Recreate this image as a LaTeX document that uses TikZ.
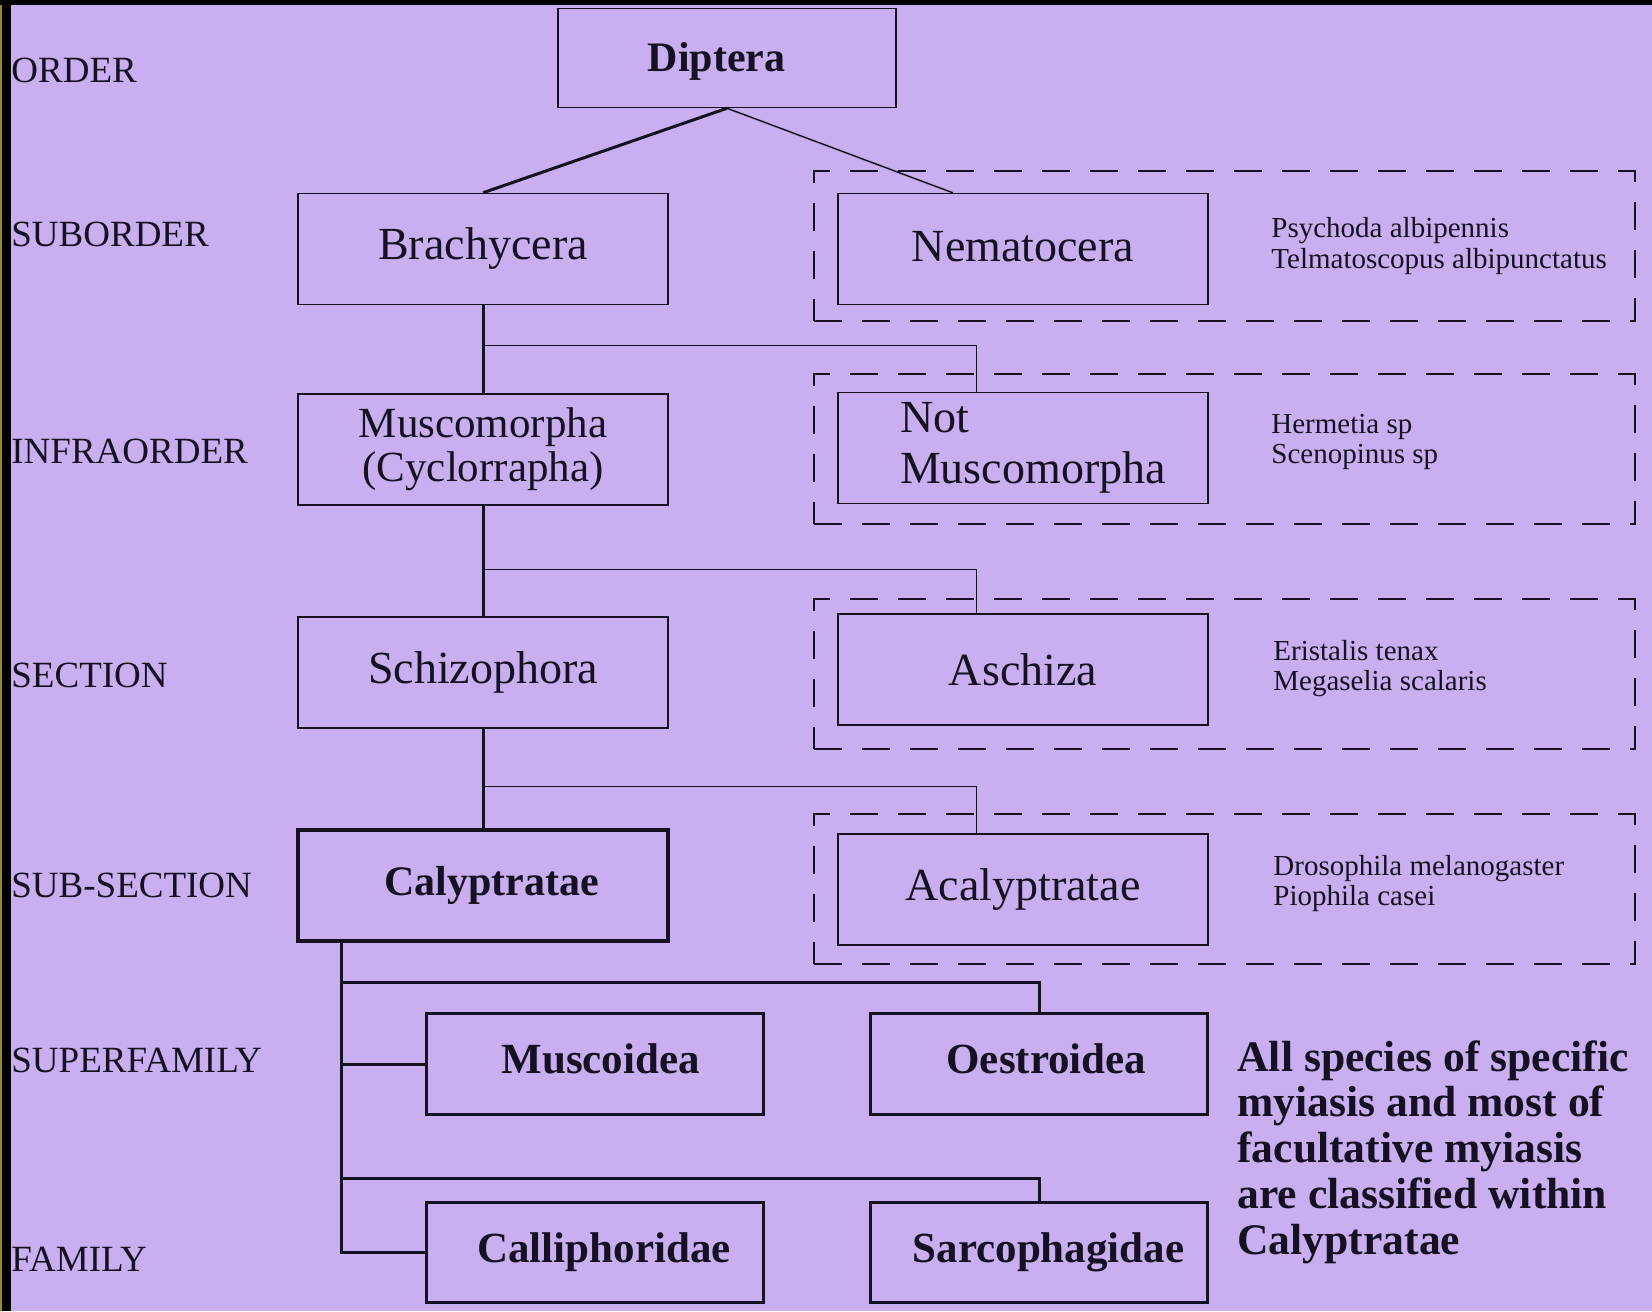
\documentclass[tikz,border=0pt]{standalone}
\usepackage{fontspec}
\setmainfont{Liberation Serif}
\usetikzlibrary{calc}
\definecolor{bgc}{RGB}{201,174,240}
\definecolor{ink}{RGB}{22,16,34}
\definecolor{olivestrip}{RGB}{150,140,30}
\begin{document}
\begin{tikzpicture}[x=0.5pt,y=-0.5pt,
  box/.style={draw=ink, line width=0.75pt, rectangle, inner sep=0pt, minimum width=185pt, minimum height=55.5pt, text=ink, font=\fontsize{23}{25.3}\selectfont},
  bbox/.style={draw=ink, line width=1.5pt, rectangle, inner sep=0pt, minimum width=168.5pt, minimum height=50.25pt, text=ink, font=\bfseries\fontsize{21.5}{23}\selectfont},
  grp/.style={draw=ink, line width=1pt, dash pattern=on 14pt off 10pt, rectangle, inner sep=0pt, minimum width=410.5pt, minimum height=75pt},
  rank/.style={anchor=west, inner sep=0pt, text=ink, font=\fontsize{18.5}{20}\selectfont},
  spec/.style={anchor=west, align=left, inner sep=0pt, text=ink, font=\fontsize{14.5}{15.3}\selectfont},
  thk/.style={draw=ink, line width=1.5pt},
  thn/.style={draw=ink, line width=0.5pt},
]
\useasboundingbox (0,0) rectangle (1652,1311);
\fill[bgc] (0,0) rectangle (1652,1311);
\fill[black] (0,0) rectangle (1652,5);
\fill[black] (0,0) rectangle (11,1311);
\fill[olivestrip] (0,5) rectangle (2,1311);

% rank labels
\node[rank] (rOrder) at (11,70.6) {ORDER};
\node[rank] (rSubo) at (11,234) {SUBORDER};
\node[rank] (rInfra) at (11,451) {INFRAORDER};
\node[rank] (rSect) at (11,675) {SECTION};
\node[rank] (rSubs) at (11,885) {SUB-SECTION};
\node[rank] (rSupf) at (11,1060) {SUPERFAMILY};
\node[rank] (rFam) at (11,1259) {FAMILY};

% dashed groups
\node[grp] (g1) at (1224.5,245.5) {};
\node[grp] (g2) at (1224.5,448.5) {};
\node[grp] (g3) at (1224.5,673.5) {};
\node[grp] (g4) at (1224.5,888.5) {};

% boxes
\node[box, minimum width=169pt, minimum height=49.5pt, text height=16.4pt, text depth=2.4pt, font=\bfseries\fontsize{21}{23}\selectfont] (dip) at (727,58) {Diptera\hspace*{10.5pt}};
\node[box] (bra) at (483,249) {Brachycera};
\node[box, text height=16pt, text depth=4pt] (nem) at (1023,249) {Nematocera};
\node[box, align=center, font=\fontsize{21.5}{22}\selectfont] (musc) at (483,449.5) {Muscomorpha\\(Cyclorrapha)};
\node[box, align=left, text width=185pt, inner xsep=0pt] (notm) at (1023,448) {\hspace*{31pt}Not\\\hspace*{31pt}Muscomorpha};
\node[box] (sch) at (483,672.5) {Schizophora};
\node[box] (asc) at (1023,669.5) {Aschiza};
\node[box, line width=1.75pt, font=\bfseries\fontsize{21}{23}\selectfont] (cal) at (483,885.5) {\hspace*{8.4pt}Calyptratae};
\node[box] (acal) at (1023,889.5) {Acalyptratae};
\node[bbox, text height=14.5pt, text depth=5.5pt] (mus) at (594.5,1064) {\hspace*{6.3pt}Muscoidea};
\node[bbox, text height=14.5pt, text depth=5.5pt] (oes) at (1039,1064) {\hspace*{7.4pt}Oestroidea};
\node[bbox] (cll) at (594.5,1252.5) {\hspace*{9.5pt}Calliphoridae};
\node[bbox] (sar) at (1039,1252.5) {\hspace*{9.5pt}Sarcophagidae};

% species
\node[spec] (s1) at (1271,246) {Psychoda albipennis\\Telmatoscopus albipunctatus};
\node[spec] (s2) at (1271,442) {Hermetia sp\\Scenopinus sp};
\node[spec] (s3) at (1273,668.5) {Eristalis tenax\\Megaselia scalaris};
\node[spec] (s4) at (1273,883.5) {Drosophila melanogaster\\Piophila casei};

\node[anchor=west, align=left, inner sep=0pt, text=ink, font=\bfseries\fontsize{21.8}{22.9}\selectfont] (note) at (1237,1152) {All species of specific\\myiasis and most of\\facultative myiasis\\are classified within\\Calyptratae};

% coordinates
\coordinate (brx) at (976.7,0);
\coordinate (tr) at (341.4,0);
\coordinate (j1) at (483,345.6);
\coordinate (j2) at (483,569);
\coordinate (j3) at (483,786);
\coordinate (h1) at (341.4,982);
\coordinate (h2) at (341.4,1178);

% connectors
\draw[thk] (dip.south) -- (bra.north);
\draw[draw=ink, line width=0.75pt] (dip.south) -- ([xshift=57.75pt]nem.north west);
\draw[thk] (bra.south) -- (musc.north);
\draw[thn] (j1) -| (notm.north -| brx);
\draw[thk] (musc.south) -- (sch.north);
\draw[thn] (j2) -| (asc.north -| brx);
\draw[thk] (sch.south) -- (cal.north);
\draw[thn] (j3) -| (acal.north -| brx);
\draw[thk] (cal.south -| tr) |- (cll.west);
\draw[thk] (mus.west) -- (mus.west -| tr);
\draw[thk] (h1) -| (oes.north);
\draw[thk] (h2) -| (sar.north);
\end{tikzpicture}
\end{document}
